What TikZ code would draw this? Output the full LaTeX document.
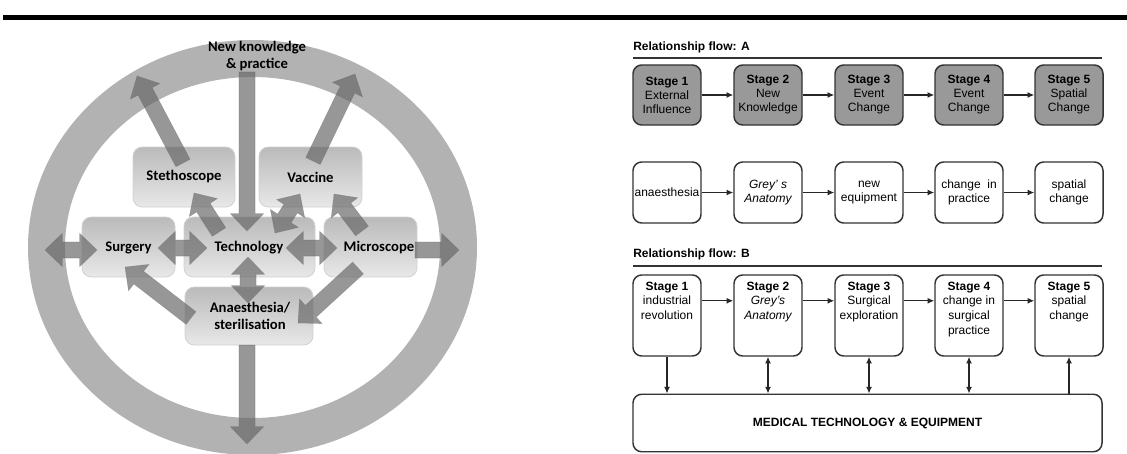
\documentclass[tikz,border=0pt]{standalone}
\usepackage{fontspec}
\setmainfont{Liberation Sans}
\newfontfamily\calfont{Carlito}
\usetikzlibrary{calc,arrows.meta}

\definecolor{ringgray}{gray}{0.70}
\definecolor{blkgray}{gray}{0.40}
\definecolor{stagegray}{gray}{0.60}
\definecolor{edgegray}{gray}{0.20}

% block arrow geometry (1px = 0.75pt)
\newcommand\bkShaft{6pt}
\newcommand\bkHead{12.5pt}
\newcommand\bkLen{13pt}

% single-headed block arrow from #1 to #2
\newcommand\blockone[2]{%
  \coordinate (hb) at ($(#2)!\bkLen!(#1)$);
  \fill[blk] ($(#1)!\bkShaft!90:(#2)$) -- ($(hb)!\bkShaft!90:(#2)$)
    -- ($(hb)!\bkHead!90:(#2)$) -- (#2) -- ($(hb)!\bkHead!-90:(#2)$)
    -- ($(hb)!\bkShaft!-90:(#2)$) -- ($(#1)!\bkShaft!-90:(#2)$) -- cycle;}

% double-headed block arrow between #1 and #2
\newcommand\blocktwo[2]{%
  \coordinate (hb) at ($(#2)!\bkLen!(#1)$);
  \coordinate (ha) at ($(#1)!\bkLen!(#2)$);
  \fill[blk] (#1) -- ($(ha)!\bkHead!90:(#2)$) -- ($(ha)!\bkShaft!90:(#2)$)
    -- ($(hb)!\bkShaft!90:(#2)$) -- ($(hb)!\bkHead!90:(#2)$) -- (#2)
    -- ($(hb)!\bkHead!-90:(#2)$) -- ($(hb)!\bkShaft!-90:(#2)$)
    -- ($(ha)!\bkShaft!-90:(#2)$) -- ($(ha)!\bkHead!-90:(#2)$) -- cycle;}

\tikzset{
  blk/.style={fill=blkgray, fill opacity=0.68, draw=black!60, draw opacity=0.35, line width=0.4pt},
  lbox/.style={rectangle, rounded corners=7pt, top color=black!27, bottom color=black!9,
    draw=black!18, line width=0.6pt, inner sep=0pt},
  lbl/.style={font=\calfont\bfseries\fontsize{11}{12.75}\selectfont, align=center, inner sep=0pt},
  sbox/.style={rectangle, rounded corners=6.5pt, draw=edgegray, line width=1.1pt,
    minimum width=68*0.75pt, inner sep=0pt, align=center,
    font=\fontsize{9}{10.5}\selectfont},
  stagebox/.style={sbox, fill=stagegray, minimum height=60*0.75pt},
  wbox/.style={sbox, fill=white, minimum height=61*0.75pt},
  bbox/.style={sbox, fill=white, minimum height=81*0.75pt},
  btxt/.style={inner sep=0pt, align=center, font=\fontsize{9}{11}\selectfont},
  conn/.style={draw=black!85, line width=0.95pt, -{Latex[length=5pt,width=4.5pt]}},
  conn2/.style={draw=black!85, line width=0.95pt, {Latex[length=5pt,width=4.5pt]}-{Latex[length=5pt,width=4.5pt]}},
  head/.style={font=\bfseries\fontsize{9}{11}\selectfont, anchor=west, inner sep=0pt}
}

\begin{document}
\begin{tikzpicture}[x=0.75pt, y=-0.75pt]
\useasboundingbox (0,0) rectangle (1127,453);
\clip (0,0) rectangle (1127,453);

% top rule
\fill[black] (3,15) rectangle (1127,20);

% ---------------- left: ring of technologies ----------------
\fill[ringgray, even odd rule]
  (252.5,247.5) ellipse [x radius=224.5, y radius=207.5]
  (252.5,247.5) ellipse [x radius=187.5, y radius=170.5];

\node[lbox, minimum width=102*0.75pt, minimum height=60*0.75pt] (steth) at (184,177) {};
\node[lbox, minimum width=103*0.75pt, minimum height=60*0.75pt] (vacc)  at (310.5,177) {};
\node[lbox, minimum width=93*0.75pt,  minimum height=60*0.75pt] (surg)  at (128.5,247) {};
\node[lbox, minimum width=131*0.75pt, minimum height=60*0.75pt] (tech)  at (249.5,247) {};
\node[lbox, minimum width=93*0.75pt,  minimum height=60*0.75pt] (micro) at (370.5,247) {};
\node[lbox, minimum width=128*0.75pt, minimum height=58*0.75pt] (anae)  at (249,316) {};

% arrow end points
\coordinate (knowA) at (247,72);    \coordinate (knowB) at (247,231);
\coordinate (stA)   at (183,163);   \coordinate (stB)   at (137,76);
\coordinate (vaA)   at (313,161);   \coordinate (vaB)   at (355,74);
\coordinate (tsA)   at (219,232);   \coordinate (tsB)   at (194,193);
\coordinate (tvA)   at (275,233);   \coordinate (tvB)   at (300,194);
\coordinate (mvA)   at (362,231);   \coordinate (mvB)   at (334,194);
\coordinate (olA)   at (45,250);    \coordinate (olB)   at (97,250);
\coordinate (stcA)  at (158,248);   \coordinate (stcB)  at (207,248);
\coordinate (tmA)   at (286,248);   \coordinate (tmB)   at (337,248);
\coordinate (orA)   at (415,250);   \coordinate (orB)   at (459,250);
\coordinate (taA)   at (248,257);   \coordinate (taB)   at (248,303);
\coordinate (asA)   at (191,318);   \coordinate (asB)   at (125,267);
\coordinate (maA)   at (358,268);   \coordinate (maB)   at (298,323);
\coordinate (dnA)   at (247,345);   \coordinate (dnB)   at (247,444);

\blockone{knowA}{knowB}
\blockone{stA}{stB}
\blockone{vaA}{vaB}
\blockone{tsA}{tsB}
\blocktwo{tvA}{tvB}
\blockone{mvA}{mvB}
\blocktwo{olA}{olB}
\blocktwo{stcA}{stcB}
\blocktwo{tmA}{tmB}
\blockone{orA}{orB}
\blocktwo{taA}{taB}
\blockone{asA}{asB}
\blockone{maA}{maB}
\blockone{dnA}{dnB}

\node[lbl] (knowT) at (257,56) {New knowledge\\\& practice};
\node[lbl] (stethT) at (steth) {Stethoscope};
\node[lbl] (vaccT) at (vacc) {Vaccine};
\node[lbl] (surgT) at (128.5,248) {Surgery};
\node[lbl] (techT) at (249,248) {Technology};
\node[lbl] (microT) at (379,248) {Microscope};
\node[lbl] (anaeT) at (250,316) {Anaesthesia/\\sterilisation};

% ---------------- right: relationship flows ----------------
\node[head] (hdA) at (633,47) {Relationship flow: A};
\draw[line width=0.8pt, black!80] (633,58) coordinate (lnA0) -- (1102,58) coordinate (lnA1);

\node[stagebox] (a1) at (667,95)  {\textbf{Stage 1}\\External\\Influence};
\node[stagebox] (a2) at (768,95)  {\textbf{Stage 2}\\New\\Knowledge};
\node[stagebox] (a3) at (869,95)  {\textbf{Stage 3}\\Event\\Change};
\node[stagebox] (a4) at (969,95)  {\textbf{Stage 4}\\Event\\Change};
\node[stagebox] (a5) at (1069,95) {\textbf{Stage 5}\\Spatial\\Change};
\foreach \p/\q in {a1/a2,a2/a3,a3/a4,a4/a5} \draw[conn] (\p) -- (\q);

\node[wbox] (w1) at (667,192.5)  {anaesthesia};
\node[wbox] (w2) at (768,192.5)  {\itshape Grey’ s\\\itshape Anatomy};
\node[wbox] (w3) at (869,192.5)  {new\\equipment};
\node[wbox] (w4) at (969,192.5)  {change~~in\\practice};
\node[wbox] (w5) at (1069,192.5) {spatial\\change};
\foreach \p/\q in {w1/w2,w2/w3,w3/w4,w4/w5} \draw[conn] (\p) -- (\q);

\node[head] (hdB) at (633,254) {Relationship flow: B};
\draw[line width=0.8pt, black!80] (633,266) coordinate (lnB0) -- (1102,266) coordinate (lnB1);

\node[bbox] (b1) at (667,315.5)  {};
\node[bbox] (b2) at (768,315.5)  {};
\node[bbox] (b3) at (869,315.5)  {};
\node[bbox] (b4) at (969,315.5)  {};
\node[bbox] (b5) at (1069,315.5) {};
\node[btxt, anchor=north] (b1t) at ([yshift=-5.5pt]b1.north) {\textbf{Stage 1}\\industrial\\revolution};
\node[btxt, anchor=north] (b2t) at ([yshift=-5.5pt]b2.north) {\textbf{Stage 2}\\\itshape Grey's\\\itshape Anatomy};
\node[btxt, anchor=north] (b3t) at ([yshift=-5.5pt]b3.north) {\textbf{Stage 3}\\Surgical\\exploration};
\node[btxt, anchor=north] (b4t) at ([yshift=-5.5pt]b4.north) {\textbf{Stage 4}\\change in\\surgical\\practice};
\node[btxt, anchor=north] (b5t) at ([yshift=-5.5pt]b5.north) {\textbf{Stage 5}\\spatial\\change};
\foreach \p/\q in {b1/b2,b2/b3,b3/b4,b4/b5} \draw[conn] (\p.east |- b1t) -- (\q.west |- b1t);

\node[sbox, minimum width=469*0.75pt, minimum height=57.5*0.75pt] (med) at (867.5,423)
  {\textbf{MEDICAL TECHNOLOGY \& EQUIPMENT}};

\draw[conn]  (b1.south) -- (b1.south |- med.north);
\draw[conn2] (b2.south) -- (b2.south |- med.north);
\draw[conn2] (b3.south) -- (b3.south |- med.north);
\draw[conn2] (b4.south) -- (b4.south |- med.north);
\draw[conn]  (b5.south |- med.north) -- (b5.south);
\end{tikzpicture}
\end{document}
